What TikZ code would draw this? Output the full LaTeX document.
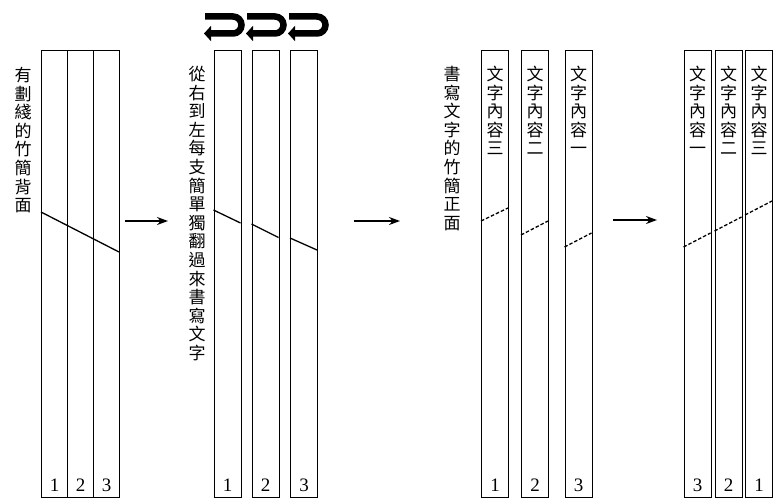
\documentclass[tikz,border=0pt]{standalone}
\usepackage{fontspec}
\setmainfont{Liberation Serif}
\newfontfamily\cjk{Noto Sans CJK TC}
\usetikzlibrary{arrows.meta,calc}
\tikzset{
  stripbox/.style={draw, line width=1.4pt, minimum width=27pt, minimum height=447pt, inner sep=0pt, anchor=north west},
  numtxt/.style={font=\fontsize{19}{19}\selectfont, inner sep=0pt},
  vlabel/.style={font=\cjk\fontsize{17}{18.6}\selectfont, align=center, inner sep=0pt, anchor=north},
  slash/.style={line width=1.3pt},
  dslash/.style={line width=1.3pt, dash pattern=on 3.5pt off 2pt},
  steparrow/.style={line width=1.4pt, -{Stealth[length=11pt,width=8pt]}},
  fliparrow/.style={line width=6.5pt, -{Triangle[length=7pt,width=15pt]}},
}
\begin{document}
\begin{tikzpicture}[x=1pt,y=-1pt]
\useasboundingbox (0,0) rectangle (773,500);
\fill[white] (0,0) rectangle (773,500);

% ---------- Panel 1 ----------
\node[stripbox, minimum width=26pt] (a1) at (41,50) {};
\node[stripbox, minimum width=26pt] (a2) at (67,50) {};
\node[stripbox, minimum width=26pt] (a3) at (93,50) {};
\foreach \s/\n in {a1/1,a2/2,a3/3}
  \node[numtxt] at ($(\s.south)+(0,-13)$) {\n};
\draw[slash] (41,212) -- (119,252);
\node[vlabel] (l1) at (23,67) {有\\劃\\綫\\的\\竹\\簡\\背\\面};

\draw[steparrow] (125,221) -- (168,221);

% ---------- Panel 2 ----------
\node[stripbox] (b1) at (213.5,50) {};
\node[stripbox] (b2) at (251.5,50) {};
\node[stripbox] (b3) at (290,50) {};
\foreach \s/\n in {b1/1,b2/2,b3/3}
  \node[numtxt] at ($(\s.south)+(0,-13)$) {\n};
\draw[slash] (213.5,210) -- (240.5,223);
\draw[slash] (251.5,224) -- (278.5,237.5);
\draw[slash] (290,238) -- (317,250);
\node[vlabel] (l2) at (197,66) {從\\右\\到\\左\\每\\支\\簡\\單\\獨\\翻\\過\\來\\書\\寫\\文\\字};

\foreach \L in {203,245,287}{
  \draw[fliparrow] (\L+2,16.5) -- (\L+30,16.5) arc[start angle=-90,end angle=90,radius=8.5] -- (\L+1,33.5);
}

\draw[steparrow] (354,221) -- (400,221);

% ---------- Panel 3 ----------
\node[stripbox] (c1) at (481,50) {};
\node[stripbox] (c2) at (521,50) {};
\node[stripbox] (c3) at (564.5,50) {};
\foreach \s/\n in {c1/1,c2/2,c3/3}
  \node[numtxt] at ($(\s.south)+(0,-13)$) {\n};
\node[vlabel] at ($(c1.north)+(0,16)$) {文\\字\\內\\容\\三};
\node[vlabel] at ($(c2.north)+(0,16)$) {文\\字\\內\\容\\二};
\node[vlabel] at ($(c3.north)+(0,16)$) {文\\字\\內\\容\\一};
\draw[dslash] (481,221) -- (508,208);
\draw[dslash] (521,235) -- (548,221);
\draw[dslash] (564.5,247) -- (591.5,233);
\node[vlabel] (l3) at (452,66) {書\\寫\\文\\字\\的\\竹\\簡\\正\\面};

\draw[steparrow] (613,220) -- (657,220);

% ---------- Panel 4 ----------
\node[stripbox] (d3) at (683.5,50) {};
\node[stripbox] (d2) at (714.5,50) {};
\node[stripbox] (d1) at (745,50) {};
\node[numtxt] at ($(d3.south)+(0,-13)$) {3};
\node[numtxt] at ($(d2.south)+(0,-13)$) {2};
\node[numtxt] at ($(d1.south)+(0,-13)$) {1};
\node[vlabel] at ($(d3.north)+(0,16)$) {文\\字\\內\\容\\一};
\node[vlabel] at ($(d2.north)+(0,16)$) {文\\字\\內\\容\\二};
\node[vlabel] at ($(d1.north)+(0,16)$) {文\\字\\內\\容\\三};
\draw[dslash] (683.5,247) -- (710.5,233);
\draw[dslash] (714.5,231) -- (741.5,217);
\draw[dslash] (745,215) -- (772,201);
\end{tikzpicture}
\end{document}
